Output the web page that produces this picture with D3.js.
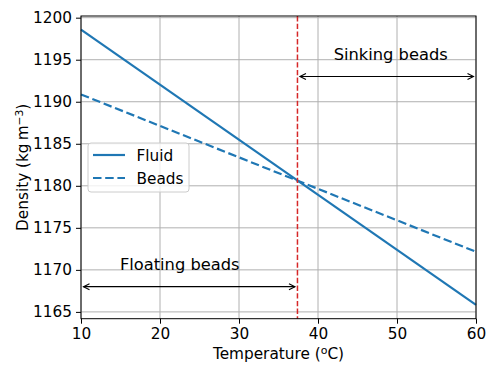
<!DOCTYPE html>
<html>
<head>
<meta charset="utf-8">
<script src="https://cdn.jsdelivr.net/npm/d3@7"></script>
<style>
  html, body { margin: 0; padding: 0; background: #fff; }
  svg { display: block; font-family: "DejaVu Sans", sans-serif; }
</style>
</head>
<body>
<svg id="chart" width="498" height="374"></svg>
<script>
// ---- data ----
const temperature = [10, 60];
const fluidDensity = [1198.58, 1165.83];
const beadsDensity = [1190.87, 1172.15];
const crossoverTemp = 37.4;
const seriesNames = ["Fluid", "Beads"];
const xTicks = [10, 20, 30, 40, 50, 60];
const yTicks = [1165, 1170, 1175, 1180, 1185, 1190, 1195, 1200];
const annotationLabels = ["Floating beads", "Sinking beads"];
const annotationTextPos = [[22.5, 1170], [49.2, 1195]];
const annotationArrowY = [1168, 1193];
const annotationArrowX = [[10, 37.4], [37.4, 60]];

// ---- layout ----
const W = 498, H = 374;
const m = { left: 81, right: 22, top: 16, bottom: 55.3 };
const pw = W - m.left - m.right, ph = H - m.top - m.bottom;
const svg = d3.select("#chart");
const g = svg.append("g").attr("transform", `translate(${m.left},${m.top})`);

const x = d3.scaleLinear().domain([10, 60]).range([0, pw]);
const y = d3.scaleLinear().domain([1164.19, 1200.2]).range([ph, 0]);

const FS = 15.3;
const blue = "#1f77b4";

// grid
g.append("g").selectAll("line").data(xTicks).join("line")
  .attr("x1", d => x(d)).attr("x2", d => x(d)).attr("y1", 0).attr("y2", ph)
  .attr("stroke", "#b0b0b0").attr("stroke-width", 1);
g.append("g").selectAll("line").data(yTicks).join("line")
  .attr("y1", d => y(d)).attr("y2", d => y(d)).attr("x1", 0).attr("x2", pw)
  .attr("stroke", "#b0b0b0").attr("stroke-width", 1);

// axes
const xAxis = g.append("g").attr("transform", `translate(0,${ph})`)
  .call(d3.axisBottom(x).tickValues(xTicks).tickSize(5).tickPadding(4).tickFormat(d3.format("d")));
const yAxis = g.append("g")
  .call(d3.axisLeft(y).tickValues(yTicks).tickSize(5).tickPadding(4).tickFormat(d3.format("d")));
[xAxis, yAxis].forEach(a => {
  a.select(".domain").remove();
  a.selectAll("line").attr("stroke", "#000").attr("stroke-width", 1);
  a.selectAll("text").attr("fill", "#000").style("font-size", FS + "px")
    .style("font-family", "DejaVu Sans");
});

// lines
const pts = vals => temperature.map((t, i) => [x(t), y(vals[i])]);
const line = d3.line();
g.append("path").attr("d", line(pts(fluidDensity))).attr("fill", "none")
  .attr("stroke", blue).attr("stroke-width", 2.2);
g.append("path").attr("d", line(pts(beadsDensity))).attr("fill", "none")
  .attr("stroke", blue).attr("stroke-width", 2.2).attr("stroke-dasharray", "8.5,3.7");

// crossover line
g.append("line").attr("x1", x(crossoverTemp)).attr("x2", x(crossoverTemp))
  .attr("y1", 0).attr("y2", ph).attr("stroke", "#d62728").attr("stroke-width", 1.5)
  .attr("stroke-dasharray", "5.4,2.3");

// annotations
annotationLabels.forEach((lab, i) => {
  const ay = y(annotationArrowY[i]);
  const xa = x(annotationArrowX[i][0]) + 2.5, xb = x(annotationArrowX[i][1]) - 2.5;
  g.append("line").attr("x1", xa).attr("x2", xb).attr("y1", ay).attr("y2", ay)
    .attr("stroke", "#000").attr("stroke-width", 1.1);
  const hl = 6, hw = 3;
  g.append("path").attr("d", `M${xa + hl},${ay - hw}L${xa},${ay}L${xa + hl},${ay + hw}`)
    .attr("fill", "none").attr("stroke", "#000").attr("stroke-width", 1.1);
  g.append("path").attr("d", `M${xb - hl},${ay - hw}L${xb},${ay}L${xb - hl},${ay + hw}`)
    .attr("fill", "none").attr("stroke", "#000").attr("stroke-width", 1.1);
  g.append("text").attr("x", x(annotationTextPos[i][0])).attr("y", y(annotationTextPos[i][1]))
    .attr("text-anchor", "middle").style("font-size", "16.3px").attr("fill", "#000").text(lab);
});

// spines
g.append("rect").attr("x", 0).attr("y", 0).attr("width", pw).attr("height", ph)
  .attr("fill", "none").attr("stroke", "#000").attr("stroke-width", 1);

// legend
const lg = g.append("g").attr("transform", `translate(${88 - m.left},${143 - m.top})`);
lg.append("rect").attr("x", 0).attr("y", 0).attr("width", 101).attr("height", 49)
  .attr("rx", 3).attr("fill", "#fff").attr("fill-opacity", 0.8)
  .attr("stroke", "#cccccc").attr("stroke-width", 1);
seriesNames.forEach((name, i) => {
  const ly = 12 + i * 23;
  lg.append("line").attr("x1", 5).attr("x2", 37).attr("y1", ly).attr("y2", ly)
    .attr("stroke", blue).attr("stroke-width", 2.2)
    .attr("stroke-dasharray", i === 1 ? "8.5,3.7" : null);
  lg.append("text").attr("x", 48.5).attr("y", ly + 5.5).style("font-size", FS + "px")
    .attr("fill", "#000").text(name);
});

// axis labels
const xl = svg.append("text").attr("x", m.left + pw / 2).attr("y", 358.5)
  .attr("text-anchor", "middle").style("font-size", FS + "px").attr("fill", "#000");
xl.append("tspan").text("Temperature (");
xl.append("tspan").attr("dy", -5).style("font-size", "11px").text("o");
xl.append("tspan").attr("dy", 5).text("C)");

const yl = svg.append("text")
  .attr("transform", `translate(28,${m.top + ph / 2}) rotate(-90)`)
  .attr("text-anchor", "middle").style("font-size", FS + "px").attr("fill", "#000");
yl.append("tspan").text("Density (kg\u2009m");
yl.append("tspan").attr("dy", -5.5).style("font-size", "10.7px").text("\u22123");
yl.append("tspan").attr("dy", 5.5).text(")");
</script>
</body>
</html>
